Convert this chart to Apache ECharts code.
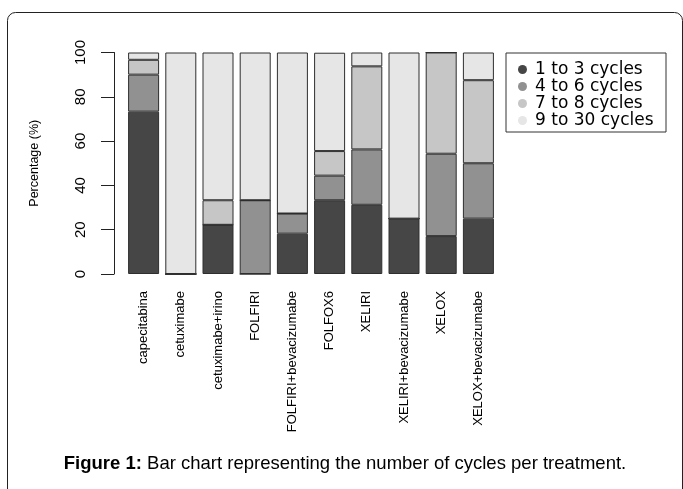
<!DOCTYPE html>
<html lang="en" style="height: 100%">
<head>
  <meta charset="utf-8">
</head>
<body style="height: 100%; margin: 0; background: #fff">
  <div id="container" style="width: 683px; height: 489px"></div>

  <script type="text/javascript" src="https://cdn.jsdelivr.net/npm/echarts@6/dist/echarts.min.js"></script>

  <script type="text/javascript">
    // treatments (x categories)
    var treatments = ['capecitabina', 'cetuximabe', 'cetuximabe+irino', 'FOLFIRI',
      'FOLFIRI+bevacizumabe', 'FOLFOX6', 'XELIRI', 'XELIRI+bevacizumabe', 'XELOX', 'XELOX+bevacizumabe'];

    // percentage of patients per cycle group
    var cycles1to3 = [73.3, 0, 22.2, 0, 18.2, 33.3, 31.25, 25, 17.1, 25];
    var cycles4to6 = [16.7, 0, 0, 33.3, 9.1, 11.1, 25, 0, 37.2, 25];
    var cycles7to8 = [6.7, 0, 11.1, 0, 0, 11.1, 37.5, 0, 45.7, 37.5];
    var cycles9to30 = [3.3, 100, 66.7, 66.7, 72.7, 44.4, 6.25, 75, 0, 12.5];

    var groupNames = ['1 to 3 cycles', '4 to 6 cycles', '7 to 8 cycles', '9 to 30 cycles'];
    var yTicks = [0, 20, 40, 60, 80, 100];

    var dom = document.getElementById('container');
    var myChart = echarts.init(dom, null, { renderer: 'canvas' });

    var colors = ['#464646', '#919191', '#c6c6c6', '#e6e6e6'];
    var groups = [cycles1to3, cycles4to6, cycles7to8, cycles9to30];

    var option = {
      animation: false,
      backgroundColor: '#fff',
      grid: { left: 125, right: 186, top: 52.5, bottom: 215 },
      legend: {
        data: groupNames,
        orient: 'vertical',
        left: 518,
        top: 61,
        padding: 0,
        icon: 'circle',
        itemWidth: 9,
        itemHeight: 9,
        itemGap: 0,
        itemStyle: { borderWidth: 0 },
        textStyle: {
          fontFamily: 'DejaVu Sans',
          fontSize: 17,
          lineHeight: 16,
          color: '#000',
          padding: [0, 0, 0, 3]
        }
      },
      xAxis: {
        type: 'category',
        data: treatments,
        axisLine: { show: false },
        axisTick: { show: false },
        axisLabel: {
          rotate: 90,
          margin: 17,
          interval: 0,
          fontFamily: 'Liberation Sans',
          fontSize: 13,
          color: '#000'
        }
      },
      yAxis: {
        type: 'value',
        min: yTicks[0],
        max: yTicks[yTicks.length - 1],
        interval: 20,
        offset: 11,
        name: 'Percentage (%)',
        nameLocation: 'middle',
        nameGap: 73,
        nameTextStyle: { fontFamily: 'Liberation Sans', fontSize: 12.5, color: '#000' },
        axisLine: { show: true, lineStyle: { color: '#222', width: 1 } },
        axisTick: { show: true, length: 13, lineStyle: { color: '#222', width: 1 } },
        splitLine: { show: false },
        axisLabel: {
          rotate: 90,
          margin: 26,
          fontFamily: 'Liberation Sans',
          fontSize: 15,
          color: '#000'
        }
      },
      series: groups.map(function (vals, i) {
        return {
          name: groupNames[i],
          type: 'bar',
          stack: 'all',
          barWidth: 31,
          data: vals,
          itemStyle: { color: colors[i], borderColor: '#2e2e2e', borderWidth: 1 }
        };
      }),
      graphic: [
        {
          type: 'rect',
          shape: { x: 7.5, y: 12.5, width: 675, height: 520, r: 8 },
          style: { fill: 'none', stroke: '#222', lineWidth: 1 },
          silent: true
        },
        {
          type: 'rect',
          shape: { x: 506, y: 53, width: 160, height: 79 },
          style: { fill: 'none', stroke: '#333', lineWidth: 1 },
          silent: true
        },
        {
          type: 'text',
          x: 345,
          y: 464,
          style: {
            text: '{b|Figure 1:} Bar chart representing the number of cycles per treatment.',
            fontFamily: 'Liberation Sans',
            fontSize: 18.5,
            fill: '#000',
            align: 'center',
            verticalAlign: 'middle',
            rich: {
              b: { fontFamily: 'Liberation Sans', fontSize: 18.5, fontWeight: 'bold', fill: '#000' }
            }
          }
        }
      ]
    };

    myChart.setOption(option);
    window.addEventListener('resize', myChart.resize);
  </script>
</body>
</html>
